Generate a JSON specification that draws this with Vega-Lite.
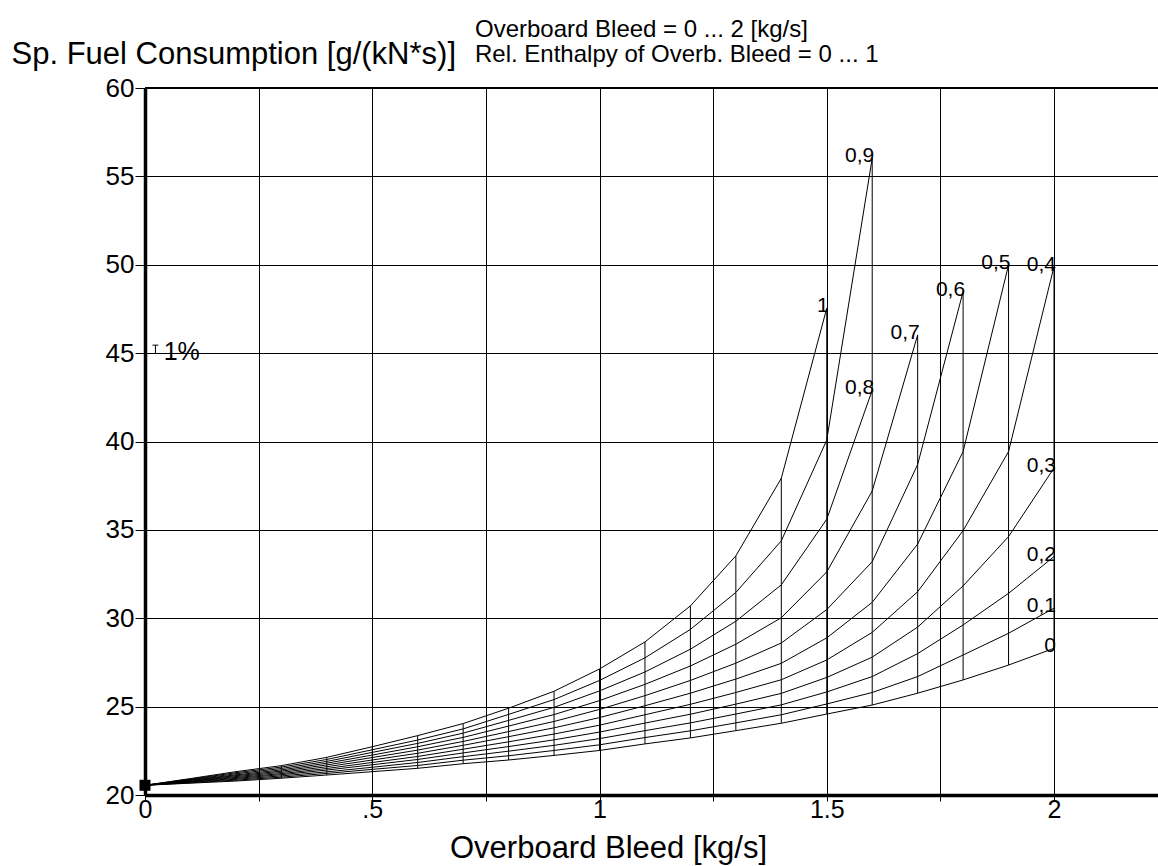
{
  "$schema": "https://vega.github.io/schema/vega-lite/v6.json",
  "width": 1013,
  "height": 707,
  "autosize": {"type": "none"},
  "padding": {"left": 145, "top": 88, "right": 0, "bottom": 71},
  "background": "white",
  "title": {
    "text": ["Overboard Bleed = 0 ... 2 [kg/s]", "Rel. Enthalpy of Overb. Bleed = 0 ... 1"],
    "anchor": "start",
    "frame": "group",
    "orient": "top",
    "dx": 330,
    "dy": 50,
    "offset": 2,
    "baseline": "alphabetic",
    "font": "Liberation Sans",
    "fontSize": 24,
    "fontWeight": "normal",
    "lineHeight": 25,
    "color": "#000"
  },
  "config": {"view": {"stroke": null}, "font": "Liberation Sans"},
  "datasets": {
    "carpet": [
      {"b":0,"h":0,"s":20.55},{"b":0,"h":0.1,"s":20.55},{"b":0,"h":0.2,"s":20.55},{"b":0,"h":0.3,"s":20.55},{"b":0,"h":0.4,"s":20.55},{"b":0,"h":0.5,"s":20.55},{"b":0,"h":0.6,"s":20.55},{"b":0,"h":0.7,"s":20.55},{"b":0,"h":0.8,"s":20.55},{"b":0,"h":0.9,"s":20.55},{"b":0,"h":1,"s":20.55},
      {"b":0.1,"h":0,"s":20.67},{"b":0.1,"h":0.1,"s":20.69},{"b":0.1,"h":0.2,"s":20.72},{"b":0.1,"h":0.3,"s":20.74},{"b":0.1,"h":0.4,"s":20.77},{"b":0.1,"h":0.5,"s":20.79},{"b":0.1,"h":0.6,"s":20.82},{"b":0.1,"h":0.7,"s":20.84},{"b":0.1,"h":0.8,"s":20.87},{"b":0.1,"h":0.9,"s":20.9},{"b":0.1,"h":1,"s":20.93},
      {"b":0.2,"h":0,"s":20.79},{"b":0.2,"h":0.1,"s":20.84},{"b":0.2,"h":0.2,"s":20.89},{"b":0.2,"h":0.3,"s":20.94},{"b":0.2,"h":0.4,"s":20.99},{"b":0.2,"h":0.5,"s":21.04},{"b":0.2,"h":0.6,"s":21.09},{"b":0.2,"h":0.7,"s":21.14},{"b":0.2,"h":0.8,"s":21.2},{"b":0.2,"h":0.9,"s":21.26},{"b":0.2,"h":1,"s":21.32},
      {"b":0.3,"h":0,"s":20.95},{"b":0.3,"h":0.1,"s":21.01},{"b":0.3,"h":0.2,"s":21.08},{"b":0.3,"h":0.3,"s":21.15},{"b":0.3,"h":0.4,"s":21.21},{"b":0.3,"h":0.5,"s":21.28},{"b":0.3,"h":0.6,"s":21.35},{"b":0.3,"h":0.7,"s":21.42},{"b":0.3,"h":0.8,"s":21.5},{"b":0.3,"h":0.9,"s":21.58},{"b":0.3,"h":1,"s":21.66},
      {"b":0.4,"h":0,"s":21.13},{"b":0.4,"h":0.1,"s":21.22},{"b":0.4,"h":0.2,"s":21.31},{"b":0.4,"h":0.3,"s":21.41},{"b":0.4,"h":0.4,"s":21.5},{"b":0.4,"h":0.5,"s":21.6},{"b":0.4,"h":0.6,"s":21.7},{"b":0.4,"h":0.7,"s":21.8},{"b":0.4,"h":0.8,"s":21.9},{"b":0.4,"h":0.9,"s":22.01},{"b":0.4,"h":1,"s":22.13},
      {"b":0.5,"h":0,"s":21.32},{"b":0.5,"h":0.1,"s":21.45},{"b":0.5,"h":0.2,"s":21.57},{"b":0.5,"h":0.3,"s":21.71},{"b":0.5,"h":0.4,"s":21.84},{"b":0.5,"h":0.5,"s":21.98},{"b":0.5,"h":0.6,"s":22.12},{"b":0.5,"h":0.7,"s":22.26},{"b":0.5,"h":0.8,"s":22.41},{"b":0.5,"h":0.9,"s":22.56},{"b":0.5,"h":1,"s":22.73},
      {"b":0.6,"h":0,"s":21.51},{"b":0.6,"h":0.1,"s":21.67},{"b":0.6,"h":0.2,"s":21.84},{"b":0.6,"h":0.3,"s":22.01},{"b":0.6,"h":0.4,"s":22.18},{"b":0.6,"h":0.5,"s":22.36},{"b":0.6,"h":0.6,"s":22.54},{"b":0.6,"h":0.7,"s":22.73},{"b":0.6,"h":0.8,"s":22.92},{"b":0.6,"h":0.9,"s":23.11},{"b":0.6,"h":1,"s":23.36},
      {"b":0.7,"h":0,"s":21.77},{"b":0.7,"h":0.1,"s":21.97},{"b":0.7,"h":0.2,"s":22.17},{"b":0.7,"h":0.3,"s":22.38},{"b":0.7,"h":0.4,"s":22.59},{"b":0.7,"h":0.5,"s":22.81},{"b":0.7,"h":0.6,"s":23.03},{"b":0.7,"h":0.7,"s":23.26},{"b":0.7,"h":0.8,"s":23.5},{"b":0.7,"h":0.9,"s":23.74},{"b":0.7,"h":1,"s":24.04},
      {"b":0.8,"h":0,"s":21.98},{"b":0.8,"h":0.1,"s":22.22},{"b":0.8,"h":0.2,"s":22.48},{"b":0.8,"h":0.3,"s":22.74},{"b":0.8,"h":0.4,"s":23.01},{"b":0.8,"h":0.5,"s":23.3},{"b":0.8,"h":0.6,"s":23.59},{"b":0.8,"h":0.7,"s":23.9},{"b":0.8,"h":0.8,"s":24.22},{"b":0.8,"h":0.9,"s":24.56},{"b":0.8,"h":1,"s":24.91},
      {"b":0.9,"h":0,"s":22.24},{"b":0.9,"h":0.1,"s":22.52},{"b":0.9,"h":0.2,"s":22.81},{"b":0.9,"h":0.3,"s":23.12},{"b":0.9,"h":0.4,"s":23.45},{"b":0.9,"h":0.5,"s":23.8},{"b":0.9,"h":0.6,"s":24.16},{"b":0.9,"h":0.7,"s":24.55},{"b":0.9,"h":0.8,"s":24.96},{"b":0.9,"h":0.9,"s":25.4},{"b":0.9,"h":1,"s":25.87},
      {"b":1,"h":0,"s":22.52},{"b":1,"h":0.1,"s":22.84},{"b":1,"h":0.2,"s":23.19},{"b":1,"h":0.3,"s":23.56},{"b":1,"h":0.4,"s":23.95},{"b":1,"h":0.5,"s":24.38},{"b":1,"h":0.6,"s":24.84},{"b":1,"h":0.7,"s":25.34},{"b":1,"h":0.8,"s":25.89},{"b":1,"h":0.9,"s":26.48},{"b":1,"h":1,"s":27.13},
      {"b":1.1,"h":0,"s":22.89},{"b":1.1,"h":0.1,"s":23.25},{"b":1.1,"h":0.2,"s":23.64},{"b":1.1,"h":0.3,"s":24.07},{"b":1.1,"h":0.4,"s":24.54},{"b":1.1,"h":0.5,"s":25.05},{"b":1.1,"h":0.6,"s":25.62},{"b":1.1,"h":0.7,"s":26.26},{"b":1.1,"h":0.8,"s":26.96},{"b":1.1,"h":0.9,"s":27.76},{"b":1.1,"h":1,"s":28.66},
      {"b":1.2,"h":0,"s":23.23},{"b":1.2,"h":0.1,"s":23.63},{"b":1.2,"h":0.2,"s":24.08},{"b":1.2,"h":0.3,"s":24.57},{"b":1.2,"h":0.4,"s":25.13},{"b":1.2,"h":0.5,"s":25.76},{"b":1.2,"h":0.6,"s":26.48},{"b":1.2,"h":0.7,"s":27.3},{"b":1.2,"h":0.8,"s":28.25},{"b":1.2,"h":0.9,"s":29.37},{"b":1.2,"h":1,"s":30.7},
      {"b":1.3,"h":0,"s":23.64},{"b":1.3,"h":0.1,"s":24.08},{"b":1.3,"h":0.2,"s":24.58},{"b":1.3,"h":0.3,"s":25.14},{"b":1.3,"h":0.4,"s":25.8},{"b":1.3,"h":0.5,"s":26.56},{"b":1.3,"h":0.6,"s":27.46},{"b":1.3,"h":0.7,"s":28.53},{"b":1.3,"h":0.8,"s":29.83},{"b":1.3,"h":0.9,"s":31.46},{"b":1.3,"h":1,"s":33.53},
      {"b":1.4,"h":0,"s":24.06},{"b":1.4,"h":0.1,"s":24.54},{"b":1.4,"h":0.2,"s":25.1},{"b":1.4,"h":0.3,"s":25.75},{"b":1.4,"h":0.4,"s":26.52},{"b":1.4,"h":0.5,"s":27.45},{"b":1.4,"h":0.6,"s":28.6},{"b":1.4,"h":0.7,"s":30.03},{"b":1.4,"h":0.8,"s":31.89},{"b":1.4,"h":0.9,"s":34.38},{"b":1.4,"h":1,"s":37.92},
      {"b":1.5,"h":0,"s":24.58},{"b":1.5,"h":0.1,"s":25.15},{"b":1.5,"h":0.2,"s":25.83},{"b":1.5,"h":0.3,"s":26.65},{"b":1.5,"h":0.4,"s":27.64},{"b":1.5,"h":0.5,"s":28.89},{"b":1.5,"h":0.6,"s":30.49},{"b":1.5,"h":0.7,"s":32.62},{"b":1.5,"h":0.8,"s":35.6},{"b":1.5,"h":0.9,"s":40.08},{"b":1.5,"h":1,"s":47.54},
      {"b":1.6,"h":0,"s":25.09},{"b":1.6,"h":0.1,"s":25.8},{"b":1.6,"h":0.2,"s":26.7},{"b":1.6,"h":0.3,"s":27.8},{"b":1.6,"h":0.4,"s":29.2},{"b":1.6,"h":0.5,"s":30.9},{"b":1.6,"h":0.6,"s":33.2},{"b":1.6,"h":0.7,"s":37.2},{"b":1.6,"h":0.8,"s":42.9},{"b":1.6,"h":0.9,"s":56.03},
      {"b":1.7,"h":0,"s":25.76},{"b":1.7,"h":0.1,"s":26.7},{"b":1.7,"h":0.2,"s":28.0},{"b":1.7,"h":0.3,"s":29.5},{"b":1.7,"h":0.4,"s":31.5},{"b":1.7,"h":0.5,"s":34.2},{"b":1.7,"h":0.6,"s":38.7},{"b":1.7,"h":0.7,"s":46.03},
      {"b":1.8,"h":0,"s":26.51},{"b":1.8,"h":0.1,"s":27.92},{"b":1.8,"h":0.2,"s":29.62},{"b":1.8,"h":0.3,"s":31.83},{"b":1.8,"h":0.4,"s":34.96},{"b":1.8,"h":0.5,"s":39.43},{"b":1.8,"h":0.6,"s":48.48},
      {"b":1.9,"h":0,"s":27.35},{"b":1.9,"h":0.1,"s":29.15},{"b":1.9,"h":0.2,"s":31.41},{"b":1.9,"h":0.3,"s":34.62},{"b":1.9,"h":0.4,"s":39.43},{"b":1.9,"h":0.5,"s":49.99},
      {"b":2,"h":0,"s":28.3},{"b":2,"h":0.1,"s":30.57},{"b":2,"h":0.2,"s":33.49},{"b":2,"h":0.3,"s":38.5},{"b":2,"h":0.4,"s":49.9}
    ]
  },
  "layer": [
    {
      "data": {"name": "carpet"},
      "mark": {"type": "line", "color": "#000", "strokeWidth": 1},
      "encoding": {
        "x": {
          "field": "b", "type": "quantitative",
          "scale": {"domain": [0, 2.2288], "nice": false, "zero": false},
          "axis": {
            "values": [0, 0.25, 0.5, 0.75, 1, 1.25, 1.5, 1.75, 2],
            "labelExpr": "datum.value == 0 ? '0' : datum.value == 0.5 ? '.5' : datum.value == 1 ? '1' : datum.value == 1.5 ? '1.5' : datum.value == 2 ? '2' : ''",
            "grid": true, "gridColor": "#000", "gridWidth": 1, "gridOpacity": 1,
            "domain": true, "domainColor": "#000", "domainWidth": 3.5,
            "ticks": true, "tickColor": "#000", "tickSize": 6, "tickWidth": 1,
            "labelColor": "#000", "labelFont": "Liberation Sans", "labelFontSize": 25, "labelPadding": -4,
            "labelFlush": false, "labelOverlap": false,
            "title": "Overboard Bleed [kg/s]",
            "titleFont": "Liberation Sans", "titleFontSize": 31, "titleFontWeight": "normal", "titleColor": "#000",
            "titleX": 463, "titleY": 62, "titleAlign": "center", "titleBaseline": "alphabetic"
          }
        },
        "y": {
          "field": "s", "type": "quantitative",
          "scale": {"domain": [20, 60], "nice": false, "zero": false},
          "axis": {
            "values": [20, 25, 30, 35, 40, 45, 50, 55, 60],
            "grid": true, "gridColor": "#000", "gridWidth": 1, "gridOpacity": 1,
            "domain": true, "domainColor": "#000", "domainWidth": 3.5,
            "ticks": true, "tickColor": "#000", "tickSize": 10, "tickWidth": 1,
            "labelColor": "#000", "labelFont": "Liberation Sans", "labelFontSize": 26, "labelPadding": 1,
            "labelFlush": false, "labelOverlap": false,
            "title": "Sp. Fuel Consumption [g/(kN*s)]",
            "titleFont": "Liberation Sans", "titleFontSize": 31, "titleFontWeight": "normal", "titleColor": "#000",
            "titleAngle": 0, "titleX": -134, "titleY": -25, "titleAlign": "left", "titleBaseline": "alphabetic"
          }
        },
        "detail": {"field": "h", "type": "nominal"},
        "order": {"field": "b", "type": "quantitative"}
      }
    },
    {
      "data": {"name": "carpet"},
      "mark": {"type": "line", "color": "#000", "strokeWidth": 1},
      "encoding": {
        "x": {"field": "b", "type": "quantitative"},
        "y": {"field": "s", "type": "quantitative"},
        "detail": {"field": "b", "type": "nominal"},
        "order": {"field": "h", "type": "quantitative"}
      }
    },
    {
      "data": {"name": "carpet"},
      "transform": [
        {"joinaggregate": [{"op": "max", "field": "b", "as": "bmax"}], "groupby": ["h"]},
        {"filter": "datum.b == datum.bmax"},
        {"calculate": "replace('' + datum.h, '.', ',')", "as": "lab"}
      ],
      "mark": {"type": "text", "align": "right", "baseline": "alphabetic", "dx": 2, "dy": 4, "font": "Liberation Sans", "fontSize": 21, "color": "#000"},
      "encoding": {
        "x": {"field": "b", "type": "quantitative"},
        "y": {"field": "s", "type": "quantitative"},
        "text": {"field": "lab"}
      }
    },
    {
      "data": {"name": "carpet"},
      "transform": [{"filter": "datum.b == 0 && datum.h == 0"}],
      "mark": {"type": "point", "shape": "square", "filled": true, "color": "#000", "size": 121, "opacity": 1},
      "encoding": {
        "x": {"field": "b", "type": "quantitative"},
        "y": {"field": "s", "type": "quantitative"}
      }
    },
    {
      "data": {"values": [{}]},
      "mark": {"type": "rule", "color": "#000", "strokeWidth": 2},
      "encoding": {"y": {"datum": 60, "type": "quantitative"}}
    },
    {
      "data": {"values": [{}]},
      "mark": {"type": "rule", "color": "#000", "strokeWidth": 1},
      "encoding": {"x": {"datum": 0.023, "type": "quantitative"}, "y": {"datum": 45, "type": "quantitative"}, "y2": {"datum": 45.45}}
    },
    {
      "data": {"values": [{}]},
      "mark": {"type": "rule", "color": "#000", "strokeWidth": 1},
      "encoding": {"x": {"datum": 0.0165, "type": "quantitative"}, "x2": {"datum": 0.0295}, "y": {"datum": 45.45, "type": "quantitative"}}
    },
    {
      "data": {"values": [{}]},
      "mark": {"type": "text", "text": "1%", "align": "left", "baseline": "middle", "dy": -1, "font": "Liberation Sans", "fontSize": 25, "color": "#000"},
      "encoding": {"x": {"datum": 0.041, "type": "quantitative"}, "y": {"datum": 45, "type": "quantitative"}}
    }
  ]
}
